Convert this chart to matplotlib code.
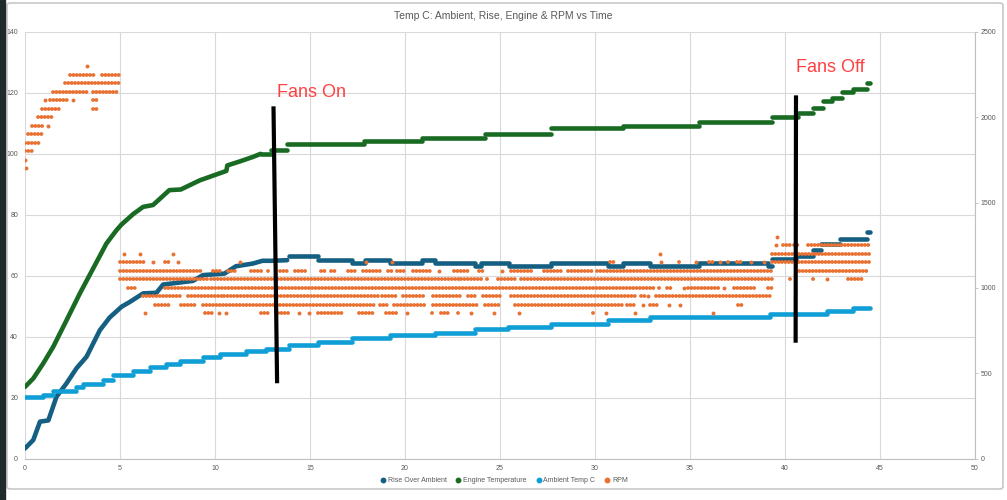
import matplotlib
matplotlib.use("Agg")
import matplotlib.pyplot as plt
from matplotlib.lines import Line2D
from matplotlib.patches import FancyBboxPatch, Rectangle

plt.rcParams['font.family'] = ['Liberation Sans Narrow', 'Liberation Sans', 'DejaVu Sans']

title = "Temp C: Ambient, Rise, Engine & RPM vs Time"

# Engine temperature: rising part (time min, deg C) then flat steps
engine_ramp_t = [0, 0.44, 0.96, 1.49, 2.19, 2.89, 3.59, 4.29, 4.81, 5.08, 5.69, 6.22, 6.74,
                 7.6, 8.2, 9.2, 10.6, 10.65, 11.3, 12.0, 12.4]
engine_ramp_v = [23.5, 26.3, 31.2, 36.7, 45.4, 54.2, 62.4, 70.6, 74.9, 76.8, 80.2, 82.6, 83.2,
                 88.1, 88.3, 91.3, 94.4, 96.2, 97.5, 99.0, 100.0]
engine_step_t = [12.4, 12.96, 13.8, 17.86, 20.9, 24.2, 27.7, 31.5, 35.5, 39.3, 40.7, 41.5,
                 42.0, 42.5, 43.0, 43.6, 44.3]
engine_step_v = [100.0, 101.4, 103.3, 104.2, 105.3, 106.4, 108.4, 109.3, 110.3, 112.1, 113.4,
                 115.1, 117.2, 118.3, 120.3, 121.4, 123.2]
engine_end = 44.5

# Rise over ambient
rise_ramp_t = [0, 0.44, 0.79, 1.23, 1.66, 2.19, 2.71, 3.24, 3.94, 4.46, 5.08, 5.52, 6.22, 6.92,
               7.27, 8.84, 9.37, 10.5, 11.1, 12.0, 12.5, 13.0, 13.8]
rise_ramp_v = [3.3, 6.1, 12.1, 12.5, 20.3, 24.7, 29.6, 33.4, 42.1, 46.3, 49.8, 51.4, 54.2, 54.4,
               57.1, 58.3, 60.2, 60.7, 63.1, 64.0, 64.9, 64.9, 65.1]
rise_step_t = [13.9, 15.4, 17.2, 17.9, 19.2, 20.9, 21.6, 23.7, 24.0, 25.5, 27.7, 30.7, 31.5,
               32.9, 35.5, 39.1, 39.3, 40.6, 41.5, 41.9, 42.9, 44.3]
rise_step_v = [66.4, 65.3, 64.2, 65.1, 64.2, 65.1, 64.2, 63.1, 64.2, 63.1, 64.2, 63.2, 64.3,
               63.2, 64.3, 63.2, 65.4, 66.4, 68.4, 70.3, 72.2, 74.4]
rise_end = 44.5

# Ambient temp C (steps only)
amb_step_t = [0, 0.96, 1.49, 2.71, 3.06, 4.1, 4.64, 5.69, 6.56, 7.44, 8.14, 9.37, 10.24, 11.64,
              12.7, 13.9, 15.4, 17.2, 19.2, 21.6, 23.7, 25.4, 27.7, 30.7, 32.9, 39.2, 42.2, 43.6]
amb_step_v = [20.3, 21.0, 22.2, 23.5, 24.4, 25.7, 27.4, 28.8, 29.9, 30.9, 32.1, 33.2, 34.3, 35.2,
              36.1, 37.2, 38.3, 39.4, 40.4, 41.2, 42.4, 43.2, 44.3, 45.4, 46.5, 47.4, 48.5, 49.4]
amb_end = 44.5

# RPM: readings sit on 50 rpm levels; time spans (min) where each level was logged
rpm_levels = {
    1700: [(0.03, 0.03)],
    1750: [(0.0, 0.0)],
    1800: [(0.0, 0.35)],
    1850: [(0.0, 0.79)],
    1900: [(0.17, 0.88)],
    1950: [(0.35, 1.05), (1.23, 1.23)],
    2000: [(0.7, 1.4)],
    2050: [(0.88, 1.93), (3.56, 3.77)],
    2100: [(1.05, 1.05), (1.3, 2.28), (2.54, 2.54), (3.59, 3.86)],
    2150: [(1.49, 3.33), (3.6, 4.9)],
    2200: [(2.1, 5.08)],
    2250: [(2.37, 3.68), (4.04, 5.08)],
    2300: [(3.28, 3.28)],
    1300: [(39.6, 39.6)],
    1250: [(39.55, 39.55), (39.9, 40.3), (40.5, 40.8), (41.2, 44.4)],
    1200: [(5.2, 5.2), (6.07, 6.07), (7.79, 7.79), (33.4, 33.4), (39.3, 44.5)],
    1150: [(5.0, 6.3), (6.74, 6.74), (7.35, 7.6), (8.05, 8.05), (11.3, 11.3), (17.95, 17.95),
           (19.3, 19.3), (30.8, 31.05), (33.5, 33.5), (34.4, 34.55), (35.3, 35.3), (36.0, 36.2),
           (36.6, 36.6), (37.0, 37.1), (37.5, 37.7), (38.2, 38.2), (38.9, 38.9), (39.3, 44.4)],
    1100: [(5.0, 9.3), (9.9, 10.4), (10.7, 11.2), (11.9, 12.5), (12.8, 12.95), (13.4, 13.9),
           (14.2, 14.9), (15.6, 15.8), (16.1, 16.4), (17.0, 17.4), (17.8, 18.8), (19.1, 19.35),
           (19.6, 20.0), (20.4, 21.3), (21.8, 21.8), (22.6, 23.4), (23.9, 24.1), (25.1, 25.1),
           (25.6, 26.8), (27.3, 28.3), (28.6, 29.9), (30.1, 39.4), (40.6, 44.4)],
    1050: [(5.0, 9.6), (9.8, 22.85), (22.95, 24.1), (24.3, 24.5), (24.9, 25.9), (26.1, 39.4),
           (40.27, 40.35), (41.5, 41.65), (42.2, 42.2), (43.3, 44.1)],
    1000: [(5.43, 5.87), (7.35, 33.1), (33.35, 33.5), (33.8, 34.1), (34.7, 34.7), (34.9, 36.6),
           (36.8, 36.8), (37.3, 38.5), (39.1, 39.3)],
    950: [(6.2, 8.2), (8.6, 10.4), (10.5, 18.65), (18.8, 19.6), (19.9, 21.1), (21.45, 23.0),
          (23.3, 23.7), (24.1, 25.1), (25.6, 32.1), (32.4, 32.65), (32.8, 32.8), (33.2, 39.3)],
    900: [(6.83, 7.7), (8.2, 9.0), (9.37, 18.4), (18.7, 19.2), (19.4, 21.1), (21.45, 23.9),
          (24.2, 24.95), (25.8, 29.85), (30.0, 31.4), (31.7, 32.2), (32.55, 32.55), (32.9, 33.4),
          (33.9, 33.9), (34.5, 34.5), (37.55, 37.8)],
    850: [(6.3, 6.3), (9.45, 9.9), (10.2, 10.2), (10.6, 10.6), (12.4, 12.9), (13.3, 14.0),
          (14.4, 14.4), (14.97, 14.97), (15.4, 16.3), (16.5, 16.7), (17.6, 18.4), (19.0, 19.6),
          (20.1, 20.1), (21.4, 21.6), (21.9, 22.4), (22.8, 22.9), (23.5, 23.5), (24.7, 24.7),
          (26.0, 26.0), (29.9, 30.0), (30.6, 30.6), (32.1, 32.1), (36.2, 36.2)],
}

c_rise = '#156082'
c_engine = '#196B24'
c_amb = '#0F9ED5'
c_rpm = '#E97132'
c_text = '#595959'
c_grid = '#d9d9d9'

fig = plt.figure(figsize=(10.07, 5.0), dpi=100)
fig.patch.set_facecolor('white')

ax = fig.add_axes([0.0248, 0.083, 0.9434, 0.853])
ax.set_xlim(0, 50)
ax.set_ylim(0, 140)
ax.set_xticks(range(0, 51, 5))
ax.set_yticks(range(0, 141, 20))
ax.grid(True, color=c_grid, linewidth=0.8)
ax.set_axisbelow(True)
for s in ['top', 'left', 'right']:
    ax.spines[s].set_visible(False)
ax.spines['bottom'].set_color('#bfbfbf')
ax.tick_params(axis='both', length=0, labelsize=5, colors=c_text, pad=5)


def steps(axis, t, v, end, color):
    ends = t[1:] + [end]
    axis.hlines(v, t, ends, colors=color, linewidth=3.3, capstyle='round', zorder=3)


# temperature series (drawn as thick lines of dense dots)
ax.plot(rise_ramp_t, rise_ramp_v, color=c_rise, lw=3.3, solid_capstyle='round',
        solid_joinstyle='round', zorder=3)
steps(ax, rise_step_t, rise_step_v, rise_end, c_rise)
ax.plot(engine_ramp_t, engine_ramp_v, color=c_engine, lw=3.3, solid_capstyle='round',
        solid_joinstyle='round', zorder=3)
steps(ax, engine_step_t, engine_step_v, engine_end, c_engine)
steps(ax, amb_step_t, amb_step_v, amb_end, c_amb)

# RPM on secondary axis
ax2 = ax.twinx()
ax2.set_ylim(0, 2500)
ax2.set_yticks(range(0, 2501, 500))
for s in ['top', 'left', 'bottom']:
    ax2.spines[s].set_visible(False)
ax2.spines['right'].set_color('#bfbfbf')
ax2.tick_params(axis='y', length=2, width=0.6, labelsize=5, colors=c_text, pad=2)
ax2.tick_params(axis='y', color='#bfbfbf')

single_t, single_r = [], []
for rpm, spans in rpm_levels.items():
    for t0, t1 in spans:
        if t1 > t0:
            ax2.plot([t0, t1], [rpm, rpm], color=c_rpm, lw=2.8,
                     linestyle=(0, (0.01, 0.85)), dash_capstyle='round', zorder=4)
        else:
            single_t.append(t0)
            single_r.append(rpm)
ax2.scatter(single_t, single_r, s=8, color=c_rpm, linewidths=0, zorder=4)

# Fans on/off markers (drawn in left-axis units)
ax2.plot([13.08, 13.27], [115.6, 24.7], color='black', lw=3.0, transform=ax.transData,
         zorder=6, solid_capstyle='butt')
ax2.plot([40.58, 40.56], [119.2, 38.0], color='black', lw=3.0, transform=ax.transData,
         zorder=6, solid_capstyle='butt')
ax2.text(13.29, 118.8, "Fans On", color='#ff4040', fontsize=13, family='Liberation Sans',
         transform=ax.transData, zorder=6)
ax2.text(40.6, 126.8, "Fans Off", color='#ff4040', fontsize=13, family='Liberation Sans',
         transform=ax.transData, zorder=6)

fig.text(0.5, 1 - 16 / 500, title, ha='center', va='center', fontsize=7.5, color=c_text)

handles = [Line2D([], [], ls='none', marker='o', markersize=3.2, color=c)
           for c in [c_rise, c_engine, c_amb, c_rpm]]
labels = ['Rise Over Ambient', 'Engine Temperature', 'Ambient Temp C', 'RPM']
fig.legend(handles, labels, loc='center', bbox_to_anchor=(0.5, 1 - 481 / 500), ncol=4,
           frameon=False, fontsize=5, labelcolor=c_text, handletextpad=0.2,
           columnspacing=1.2, handlelength=1.0)

# chart frame and screenshot edge
fig.add_artist(FancyBboxPatch((0.007, 0.022), 0.989, 0.972,
                              boxstyle='round,pad=0,rounding_size=0.004',
                              transform=fig.transFigure, fill=False,
                              edgecolor='#c8c8c8', linewidth=1.2))
fig.add_artist(Rectangle((0, 0), 5 / 1007, 1, transform=fig.transFigure,
                         color='#1f2b2b', zorder=10))

fig.savefig('out.png', dpi=100)
